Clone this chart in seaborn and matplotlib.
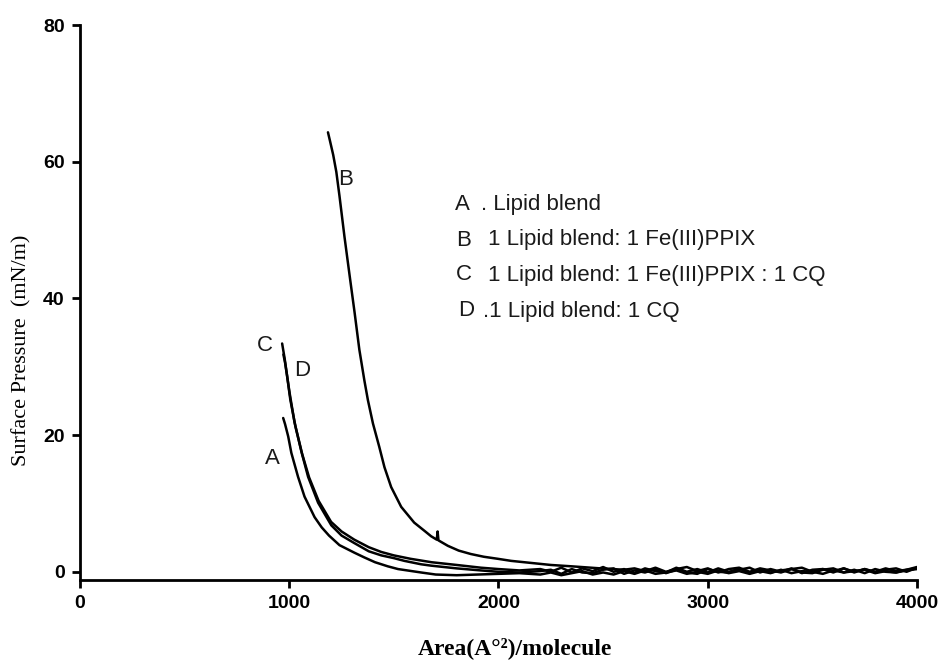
import matplotlib
matplotlib.use('Agg')
import matplotlib.pyplot as plt
import seaborn as sns
import pandas as pd

# ---- values (area in A^2/molecule, pressure in mN/m) ----
tail_area = [2200, 2250, 2300, 2350, 2400, 2450, 2500, 2550, 2600, 2650, 2700, 2750, 2800, 2850, 2900, 2950, 3000,
             3050, 3100, 3150, 3200, 3250, 3300, 3350, 3400, 3450, 3500, 3550, 3600, 3650, 3700, 3750, 3800,
             3850, 3900, 3950, 4000]

a_area = [971, 980, 995, 1010, 1042, 1073, 1121, 1155, 1190, 1240, 1311, 1359, 1410, 1471, 1520, 1630, 1700, 1800,
          1900, 2000, 2100] + tail_area
a_pres = [22.5, 21.6, 19.8, 17.4, 13.9, 11.0, 8.0, 6.5, 5.3, 3.9, 2.8, 2.1, 1.4, 0.8, 0.4, -0.1, -0.4, -0.5,
          -0.4, -0.3, -0.2,
          -0.4, -0.1, -0.5, -0.2, 0.1, -0.4, -0.1, -0.4, 0.1, -0.3, 0.2, -0.3, -0.1, 0.2, -0.3, 0.0, -0.3,
          0.2, -0.2, 0.1, -0.3, 0.1, -0.2, 0.3, -0.2, 0.1, 0.0, -0.3, 0.2, -0.1, 0.1, 0.3, -0.2,
          0.1, -0.1, 0.2, 0.4]

b_area = [1185, 1195, 1210, 1225, 1240, 1264, 1290, 1312, 1335, 1359, 1376, 1400, 1430, 1455, 1487, 1535, 1597,
          1650, 1678, 1705, 1709, 1713, 1758, 1810, 1868, 1930, 1997, 2060, 2155, 2250, 2350, 2488, 2600] + tail_area[9:]
b_pres = [64.3, 63.0, 61.0, 58.5, 55.0, 49.0, 43.0, 38.0, 32.5, 28.0, 25.1, 21.7, 18.3, 15.3, 12.4, 9.5, 7.2,
          5.9, 5.2, 4.7, 5.9, 4.6, 3.8, 3.1, 2.6, 2.2, 1.9, 1.6, 1.3, 1.0, 0.8, 0.5, 0.3,
          0.5, 0.1, 0.6, 0.0, 0.4, 0.7, 0.1, 0.5, -0.1, 0.4, 0.6, 0.0, 0.5, 0.2, -0.1, 0.4,
          0.6, 0.0, 0.4, 0.1, 0.5, -0.1, 0.4, 0.0, 0.5, 0.1, 0.3, 0.7]

c_area = [966, 978, 990, 1005, 1030, 1062, 1095, 1140, 1200, 1250, 1311, 1380, 1440, 1500, 1580, 1680, 1800, 1916,
          2000, 2100] + tail_area
c_pres = [33.4, 31.2, 28.6, 25.2, 21.2, 17.2, 13.8, 10.4, 7.3, 5.9, 4.7, 3.6, 2.9, 2.4, 1.9, 1.4, 1.0, 0.6,
          0.4, 0.2,
          0.4, 0.0, 0.6, -0.1, 0.5, 0.1, 0.7, 0.0, 0.4, -0.2, 0.5, 0.1, -0.1, 0.6, 0.0, 0.4, -0.1,
          0.5, 0.0, 0.3, 0.6, -0.1, 0.4, 0.0, 0.5, -0.2, 0.3, 0.4, -0.1, 0.5, 0.0, 0.4, -0.1,
          0.3, 0.5, 0.0, 0.6]

d_area = [972, 980, 990, 1001, 1025, 1058, 1090, 1138, 1201, 1250, 1311, 1380, 1440, 1500, 1550, 1630, 1678, 1800,
          1916, 2000, 2100] + tail_area
d_pres = [31.8, 30.6, 28.6, 26.3, 21.9, 17.6, 13.9, 10.1, 6.8, 5.3, 4.2, 3.0, 2.4, 2.0, 1.6, 1.1, 0.9, 0.5,
          0.2, 0.0, -0.1,
          0.1, 0.3, -0.3, 0.4, -0.1, -0.2, 0.3, 0.5, -0.3, 0.2, -0.1, 0.4, -0.2, 0.3, -0.1, -0.3, 0.4,
          0.0, -0.1, 0.5, -0.2, 0.3, -0.1, 0.2, 0.4, -0.1, -0.2, 0.3, 0.5, -0.1, 0.3, -0.2, 0.4,
          0.0, -0.1, 0.3, 0.5]

legend_letters = ["A", "B", "C", "D"]
legend_texts = [". Lipid blend", "1 Lipid blend: 1 Fe(III)PPIX",
                "1 Lipid blend: 1 Fe(III)PPIX : 1 CQ", ".1 Lipid blend: 1 CQ"]

frames = []
for name, xs, ys in [("A", a_area, a_pres), ("B", b_area, b_pres), ("C", c_area, c_pres), ("D", d_area, d_pres)]:
    frames.append(pd.DataFrame({"area": xs, "pressure": ys, "curve": name}))
df = pd.concat(frames, ignore_index=True)

sns.set_style("ticks")
plt.rcParams['font.family'] = ['Liberation Sans', 'DejaVu Sans']
plt.rcParams['text.color'] = 'black'
plt.rcParams['axes.labelcolor'] = 'black'
plt.rcParams['xtick.color'] = 'black'
plt.rcParams['ytick.color'] = 'black'

W, H = 945, 662
fig = plt.figure(figsize=(W / 100, H / 100), dpi=100)
ax = fig.add_axes([80 / W, 1 - 580 / H, (917 - 80) / W, (580 - 25) / H])

sns.lineplot(data=df, x="area", y="pressure", hue="curve", units="curve", estimator=None,
             palette=["black"] * 4, legend=False, linewidth=1.8, ax=ax)

ax.set_xlim(0, 4000)
ax.set_ylim(-1.2, 80)
ax.set_xticks([0, 1000, 2000, 3000, 4000])
ax.set_yticks([0, 20, 40, 60, 80])
sns.despine(ax=ax)
for s in ["left", "bottom"]:
    ax.spines[s].set_linewidth(2)
    ax.spines[s].set_color("black")
ax.tick_params(axis="both", length=6, width=2, color="black", pad=5, labelsize=14)
for lab in ax.get_xticklabels() + ax.get_yticklabels():
    lab.set_fontweight("bold")

ax.set_xlabel("Area(A\u00b0\u00b2)/molecule", family="Liberation Serif", fontweight="bold", fontsize=17)
ax.set_ylabel("Surface Pressure  (mN/m)", family="Liberation Serif", fontsize=16)
ax.xaxis.set_label_coords(0.52, -0.1225)
ax.xaxis.label.set_va("center")
ax.yaxis.set_label_coords(-0.069, 0.414)
ax.yaxis.label.set_va("center")

# legend written as plain text
rows_y = [205, 240, 275, 311]
letter_x = [455, 456, 456, 458]
text_x = [481, 488, 488, 483]
for lt, tx, y, lx, txx in zip(legend_letters, legend_texts, rows_y, letter_x, text_x):
    fig.text(lx / W, 1 - y / H, lt, fontsize=16, va="center", ha="left", color="#1a1a1a")
    fig.text(txx / W, 1 - y / H, tx, fontsize=16, va="center", ha="left", color="#1a1a1a")

# curve labels
for lt, (px, py) in zip(["B", "C", "D", "A"], [(346, 180), (265, 345), (302, 370), (272, 459)]):
    fig.text(px / W, 1 - py / H, lt, fontsize=16, va="center", ha="center", color="#1a1a1a")

fig.savefig("out.png", dpi=100)
